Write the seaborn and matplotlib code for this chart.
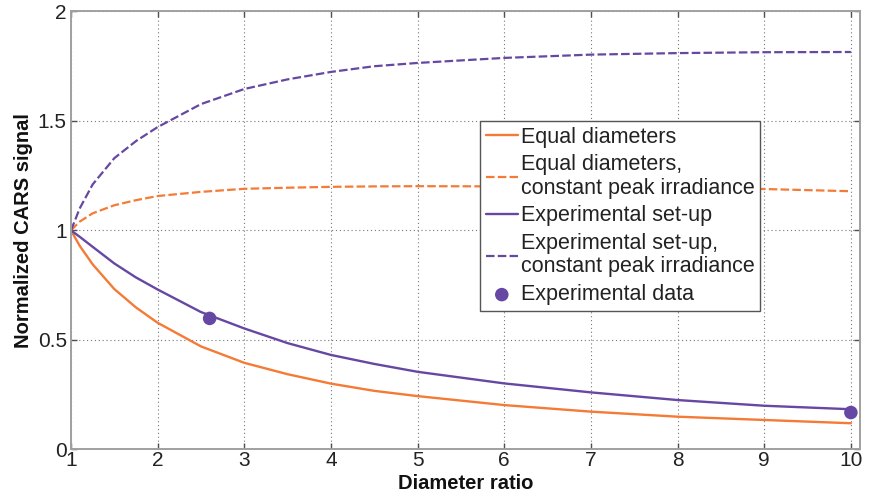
import matplotlib
matplotlib.use("Agg")
import matplotlib.pyplot as plt
import seaborn as sns

# ---- data ----
ratio = [1, 1.1, 1.25, 1.5, 1.75, 2, 2.5, 3, 3.5, 4, 4.5, 5, 6, 7, 8, 9, 10]
equal_diam = [1, 0.930, 0.845, 0.732, 0.648, 0.578, 0.470, 0.395, 0.343, 0.300,
              0.267, 0.243, 0.202, 0.172, 0.149, 0.134, 0.119]
equal_diam_cpi = [1, 1.040, 1.078, 1.115, 1.138, 1.157, 1.176, 1.190, 1.195, 1.199,
                  1.201, 1.202, 1.201, 1.199, 1.195, 1.189, 1.179]
exp_setup = [1, 0.971, 0.925, 0.849, 0.785, 0.730, 0.627, 0.552, 0.485, 0.431,
             0.390, 0.354, 0.301, 0.260, 0.225, 0.199, 0.183]
exp_setup_cpi = [1, 1.10, 1.21, 1.33, 1.408, 1.472, 1.577, 1.646, 1.690, 1.724,
                 1.750, 1.765, 1.788, 1.803, 1.810, 1.814, 1.815]
data_x = [2.6, 10]
data_y = [0.598, 0.168]

labels = ["Equal diameters",
          "Equal diameters,\nconstant peak irradiance",
          "Experimental set-up",
          "Experimental set-up,\nconstant peak irradiance",
          "Experimental data"]
xticks = [1, 2, 3, 4, 5, 6, 7, 8, 9, 10]
yticks = [0, 0.5, 1, 1.5, 2]
ytick_labels = ["0", "0.5", "1", "1.5", "2"]

ORANGE = "#F47B36"
PURPLE = "#6647A3"

sns.set_theme(style="white")
plt.rcParams["font.family"] = ["Liberation Sans", "DejaVu Sans"]

fig = plt.figure(figsize=(8.7, 5.0), dpi=100)
ax = fig.add_axes([0.0816, 0.1014, 0.9064, 0.8756])

dash = (0, (3.85, 1.45))
sns.lineplot(x=ratio, y=equal_diam, ax=ax, color=ORANGE, lw=1.7, label=labels[0],
             estimator=None, sort=False)
sns.lineplot(x=ratio, y=equal_diam_cpi, ax=ax, color=ORANGE, lw=1.6, linestyle=dash,
             label=labels[1], estimator=None, sort=False)
sns.lineplot(x=ratio, y=exp_setup, ax=ax, color=PURPLE, lw=1.7, label=labels[2],
             estimator=None, sort=False)
sns.lineplot(x=ratio, y=exp_setup_cpi, ax=ax, color=PURPLE, lw=1.6, linestyle=dash,
             label=labels[3], estimator=None, sort=False)
sns.scatterplot(x=data_x, y=data_y, ax=ax, color=PURPLE, s=95, edgecolor="none",
                label=labels[4], zorder=5)

ax.set_xlim(1, 10.1)
ax.set_ylim(0, 2)
ax.set_xticks(xticks)
ax.set_xticklabels([str(t) for t in xticks])
ax.set_yticks(yticks)
ax.set_yticklabels(ytick_labels)

ax.grid(True, linestyle=(0, (1, 2.5)), color="#777777", linewidth=0.8)
for sp in ax.spines.values():
    sp.set_visible(True)
    sp.set_color("#a0a0a0")
    sp.set_linewidth(1.4)

ax.tick_params(axis="both", which="both", direction="in", length=4.5, width=1,
               color="#505050", labelsize=15, labelcolor="#222222",
               top=True, right=True, bottom=True, left=True, pad=3)
ax.tick_params(axis="x", pad=1.5)

ax.set_xlabel("Diameter ratio", fontsize=14.5, fontweight="bold", color="#111111")
ax.set_ylabel("Normalized CARS signal", fontsize=14.5, fontweight="bold", color="#111111")
ax.xaxis.set_label_coords(0.5, -0.057)
ax.yaxis.set_label_coords(-0.048, 0.5)

leg = ax.legend(loc="upper left", bbox_to_anchor=(0.519, 0.7495), borderaxespad=0,
                fontsize=15.5, frameon=True, fancybox=False, framealpha=1,
                edgecolor="#555555", handlelength=1.5, handletextpad=0.15,
                borderpad=0.25, labelspacing=0.32, scatterpoints=1)
leg.get_frame().set_linewidth(1.0)
for t in leg.get_texts():
    t.set_linespacing(1.13)
    t.set_color("#222222")

fig.savefig("out.png", dpi=100)
